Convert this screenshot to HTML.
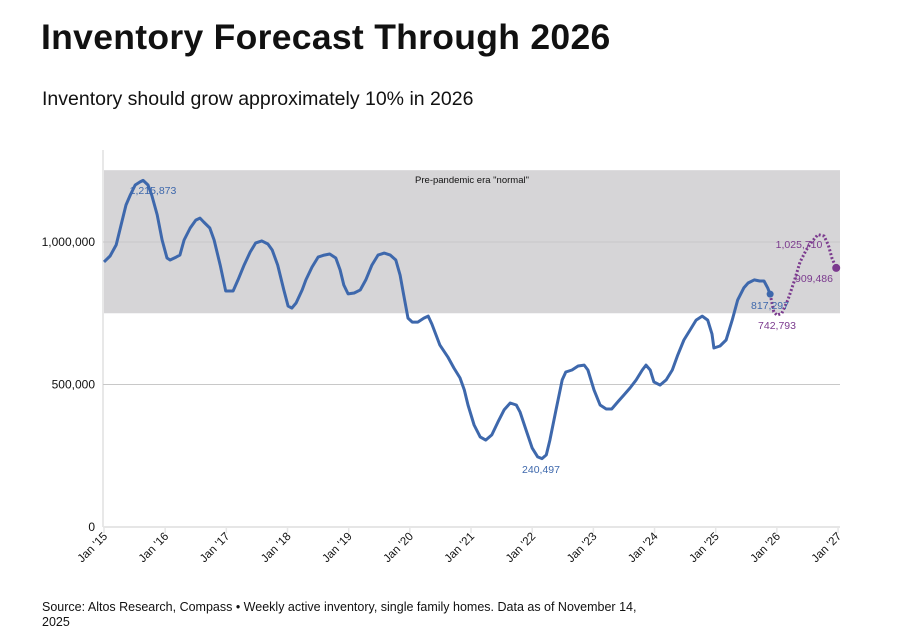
<!DOCTYPE html>
<html><head><meta charset="utf-8">
<style>
body{margin:0;width:905px;height:644px;background:#fff;font-family:"Liberation Sans",sans-serif;overflow:hidden;position:relative}
h1{position:absolute;left:41px;top:17px;margin:0;font-size:35.5px;font-weight:bold;color:#111;letter-spacing:0.3px}
.sub{position:absolute;left:42px;top:88px;font-size:19.5px;color:#111}
.src{position:absolute;left:42px;top:600px;font-size:12.5px;color:#111;line-height:15px;width:610px}
svg{position:absolute;left:0;top:0}
</style></head><body>
<h1>Inventory Forecast Through 2026</h1>
<div class="sub">Inventory should grow approximately 10% in 2026</div>
<div class="src">Source: Altos Research, Compass • Weekly active inventory, single family homes. Data as of November 14, 2025</div>
<svg id="chart" width="905" height="644"></svg>
<script>
const tActual=[0,.10,.20,.28,.36,.43,.51,.59,.64,.72,.78,.87,.95,1.03,1.08,1.18,1.24,1.31,1.41,1.50,1.57,1.63,1.73,1.80,1.90,1.99,2.11,2.19,2.29,2.39,2.48,2.58,2.68,2.75,2.84,2.94,3.01,3.07,3.14,3.24,3.30,3.40,3.50,3.60,3.69,3.79,3.86,3.92,3.99,4.09,4.19,4.28,4.38,4.48,4.58,4.68,4.77,4.84,4.90,4.97,5.04,5.13,5.23,5.30,5.36,5.49,5.62,5.72,5.82,5.89,5.95,6.05,6.15,6.24,6.34,6.44,6.54,6.64,6.74,6.80,6.90,7.00,7.09,7.16,7.23,7.29,7.39,7.49,7.55,7.65,7.75,7.85,7.91,8.01,8.11,8.21,8.30,8.40,8.50,8.60,8.70,8.80,8.86,8.93,8.99,9.09,9.19,9.29,9.38,9.48,9.58,9.68,9.78,9.87,9.94,9.97,10.07,10.17,10.27,10.36,10.46,10.53,10.63,10.72,10.79,10.85,10.89];
const vActual=[930,951,990,1060,1130,1165,1200,1211,1216,1200,1165,1095,1007,944,937,947,954,1007,1049,1077,1084,1070,1049,1007,919,828,828,867,919,965,997,1004,993,972,919,832,775,768,786,832,867,912,947,954,958,944,902,849,818,821,832,867,919,954,961,954,937,884,814,733,719,719,733,740,712,639,597,558,523,481,428,358,316,305,323,368,411,435,428,404,340,277,246,240,253,305,411,516,544,551,565,568,551,481,428,414,414,439,463,488,516,551,568,551,509,498,516,551,604,656,691,726,740,726,677,628,635,656,726,797,839,856,867,863,863,839,817];
const tForecast=[10.89,10.95,11.00,11.08,11.18,11.28,11.38,11.48,11.57,11.67,11.77,11.84,11.90,11.97];
const vForecast=[817,755,743,750,797,860,930,972,1000,1026,1021,990,944,909];
const yTicks=[0,500000,1000000];
const yTickLabels=["0","500,000","1,000,000"];
const xTickLabels=["Jan '15","Jan '16","Jan '17","Jan '18","Jan '19","Jan '20","Jan '21","Jan '22","Jan '23","Jan '24","Jan '25","Jan '26","Jan '27"];
const bandRange=[750000,1252000];

const X=t=>104+t*61.17;
const Y=v=>527-v/1000000*285;
const NS="http://www.w3.org/2000/svg";
const svg=document.getElementById('chart');
function mk(tag,attrs,txt){const e=document.createElementNS(NS,tag);for(const k in attrs)e.setAttribute(k,attrs[k]);if(txt!==undefined)e.textContent=txt;svg.appendChild(e);return e;}

let band=mk('rect',{x:104,y:Y(bandRange[1]),width:736,height:Y(bandRange[0])-Y(bandRange[1]),fill:'#d6d5d7'});


let bl=mk('text',{x:472,y:183,'font-size':9.5,'text-anchor':'middle',fill:'#111'},'Pre-pandemic era "normal"');



let ax=mk('line',{x1:103,y1:150,x2:103,y2:527,stroke:'#e8e8e8','stroke-width':2});


yTicks.forEach((v,i)=>{
  let g=mk('line',{x1:103,y1:Y(v),x2:840,y2:Y(v),stroke:v===0?'#e6e6e6':'#c8c8c8','stroke-width':v===0?2:1});
  
  
  let l=mk('text',{x:95,y:Y(v)+4,'font-size':12,'text-anchor':'end',fill:'#111'},yTickLabels[i]);
  
  
});
xTickLabels.forEach((s,i)=>{
  const x=X(i);
  let tk=mk('line',{x1:x,y1:527,x2:x,y2:533,stroke:'#e6e6e6','stroke-width':1.5});
  
  
  let l=mk('text',{x:x+4,y:537,'font-size':11.5,'text-anchor':'end',fill:'#111',transform:`rotate(-45 ${x+4} 537)`},s);
  
  
});

let pa=tActual.map((t,i)=>(i?'L':'M')+X(t).toFixed(1)+','+Y(vActual[i]*1000).toFixed(1)).join('');
let la=mk('path',{d:pa,fill:'none',stroke:'#3e68ac','stroke-width':3,'stroke-linejoin':'round'});


let pf=tForecast.map((t,i)=>(i?'L':'M')+X(t).toFixed(1)+','+Y(vForecast[i]*1000).toFixed(1)).join('');
let lf=mk('path',{d:pf,fill:'none',stroke:'#7b3a8e','stroke-width':3,'stroke-dasharray':'2 2'});


let d1=mk('circle',{cx:X(tActual[tActual.length-1]),cy:Y(vActual[vActual.length-1]*1000),r:3.5,fill:'#3e68ac'});


let d2=mk('circle',{cx:X(tForecast[tForecast.length-1]),cy:Y(vForecast[vForecast.length-1]*1000),r:4,fill:'#7b3a8e'});



const ann=[["1,215,873",153,194,'#3e68ac'],["240,497",541,473,'#3e68ac'],["817,297",770,309,'#3e68ac'],["742,793",777,329,'#7b3a8e'],["1,025,710",799,248,'#7b3a8e'],["909,486",814,282,'#7b3a8e']];
ann.forEach(a=>{
  let t=mk('text',{x:a[1],y:a[2],'font-size':10.5,'text-anchor':'middle',fill:a[3]},a[0]);
  
  
});
</script>
</body></html>
